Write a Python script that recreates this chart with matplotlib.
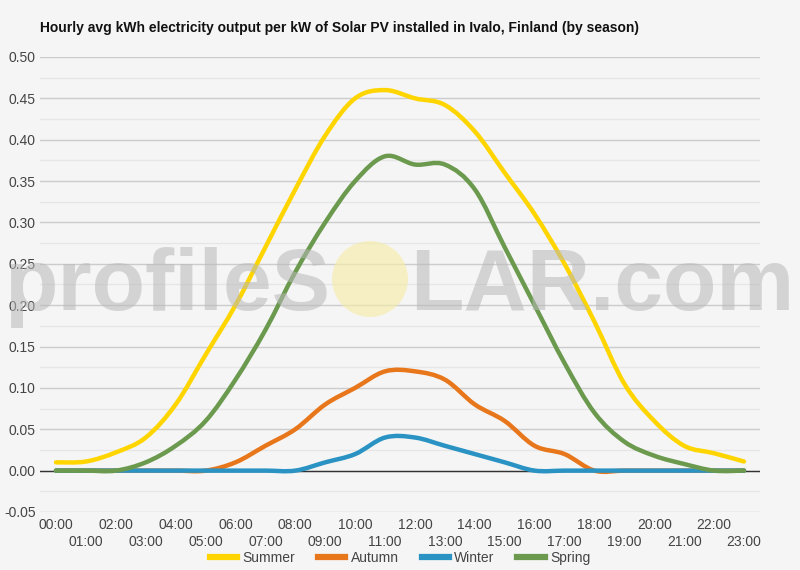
import matplotlib
matplotlib.use("Agg")
import matplotlib.pyplot as plt
import numpy as np
from matplotlib.path import Path
from matplotlib.patches import PathPatch, Ellipse
from matplotlib.lines import Line2D

plt.rcParams["font.family"] = ["Liberation Sans", "DejaVu Sans"]

hours = list(range(24))
hour_labels = [f"{h:02d}:00" for h in hours]

summer = [0.010, 0.011, 0.022, 0.040, 0.080, 0.140, 0.200, 0.270, 0.340, 0.405,
          0.450, 0.460, 0.450, 0.442, 0.410, 0.360, 0.310, 0.250, 0.180, 0.105,
          0.060, 0.030, 0.021, 0.011]
autumn = [0.0, 0.0, 0.0, 0.0, 0.0, 0.0, 0.010, 0.030, 0.050, 0.080,
          0.100, 0.120, 0.120, 0.110, 0.080, 0.060, 0.030, 0.020, 0.0, 0.0,
          0.0, 0.0, 0.0, 0.0]
winter = [0.0, 0.0, 0.0, 0.0, 0.0, 0.0, 0.0, 0.0, 0.0, 0.010,
          0.020, 0.040, 0.040, 0.030, 0.020, 0.010, 0.0, 0.0, 0.0, 0.0,
          0.0, 0.0, 0.0, 0.0]
spring = [0.0, 0.0, 0.0, 0.010, 0.030, 0.060, 0.110, 0.170, 0.240, 0.300,
          0.350, 0.380, 0.370, 0.370, 0.340, 0.270, 0.200, 0.130, 0.070, 0.035,
          0.018, 0.008, 0.0, 0.0]

series = [("Summer", summer, "#FFD500"),
          ("Autumn", autumn, "#E8761B"),
          ("Winter", winter, "#2A93C3"),
          ("Spring", spring, "#6B9A4F")]


def smooth_path(x, y, k=0.17):
    # cubic bezier through the points (Catmull-Rom style control points)
    x = np.asarray(x, dtype=float)
    y = np.asarray(y, dtype=float)
    verts = [(x[0], y[0])]
    codes = [Path.MOVETO]
    n = len(x)
    for i in range(n - 1):
        i0 = max(i - 1, 0)
        i3 = min(i + 2, n - 1)
        c1 = (x[i] + (x[i + 1] - x[i0]) * k, y[i] + (y[i + 1] - y[i0]) * k)
        c2 = (x[i + 1] - (x[i3] - x[i]) * k, y[i + 1] - (y[i3] - y[i]) * k)
        verts += [c1, c2, (x[i + 1], y[i + 1])]
        codes += [Path.CURVE4] * 3
    return Path(verts, codes)


bg = "#f5f5f5"
fig = plt.figure(figsize=(8, 5.7), dpi=100, facecolor=bg)
ax = fig.add_axes([0.05, 0.1018, 0.90, 0.7982])
ax.set_facecolor(bg)

for name, vals, color in series:
    patch = PathPatch(smooth_path(hours, vals), facecolor="none", edgecolor=color,
                      lw=3.2, capstyle="round", joinstyle="round", zorder=3)
    ax.add_patch(patch)

ax.set_xlim(-0.535, 23.535)
ax.set_ylim(-0.05, 0.50)
ax.set_yticks(np.arange(-0.05, 0.501, 0.05))
ax.set_yticks(np.arange(-0.025, 0.5, 0.05), minor=True)
ax.set_yticklabels([f"{v:.2f}" for v in np.arange(-0.05, 0.501, 0.05)])
ax.grid(True, axis="y", which="major", color="#cccccc", lw=1, zorder=0)
ax.grid(True, axis="y", which="minor", color="#e6e6e6", lw=1, zorder=0)
ax.axhline(0, color="#333333", lw=1, zorder=2)
ax.set_xticks(hours)
ax.set_xticklabels([lab if h % 2 == 0 else "\n" + lab for h, lab in zip(hours, hour_labels)],
                   linespacing=1.3)
ax.tick_params(axis="both", which="both", length=0, labelsize=10, labelcolor="#444444")
ax.tick_params(axis="x", pad=4)
ax.tick_params(axis="y", pad=3)
for s in ax.spines.values():
    s.set_visible(False)

fig.text(40 / 800, 1 - 28 / 570,
         "Hourly avg kWh electricity output per kW of Solar PV installed in Ivalo, Finland (by season)",
         fontsize=10, fontweight="bold", color="#111111", va="center", ha="left")

# watermark
wm_color = "#b8b8b8"
fig.text(4 / 800, 1 - 310 / 570, "profileS", fontsize=63, fontweight="bold",
         color=wm_color, alpha=0.55, ha="left", va="baseline", zorder=10)
fig.text(410 / 800, 1 - 310 / 570, "LAR.com", fontsize=63, fontweight="bold",
         color=wm_color, alpha=0.55, ha="left", va="baseline", zorder=10)
fig.patches.append(Ellipse((370 / 800, 1 - 279 / 570), 76 / 800, 76 / 570,
                           transform=fig.transFigure, facecolor="#f5eca8", alpha=0.65,
                           edgecolor="none", zorder=10))

handles = [Line2D([], [], color=c, lw=4.5) for _, _, c in series]
fig.legend(handles, [n for n, _, _ in series], loc="center", bbox_to_anchor=(0.5, 1 - 558 / 570),
           ncol=4, frameon=False, fontsize=10, handlelength=1.95, handletextpad=0.4,
           columnspacing=1.65, labelcolor="#444444")

fig.savefig("out.png", dpi=100, facecolor=bg)
